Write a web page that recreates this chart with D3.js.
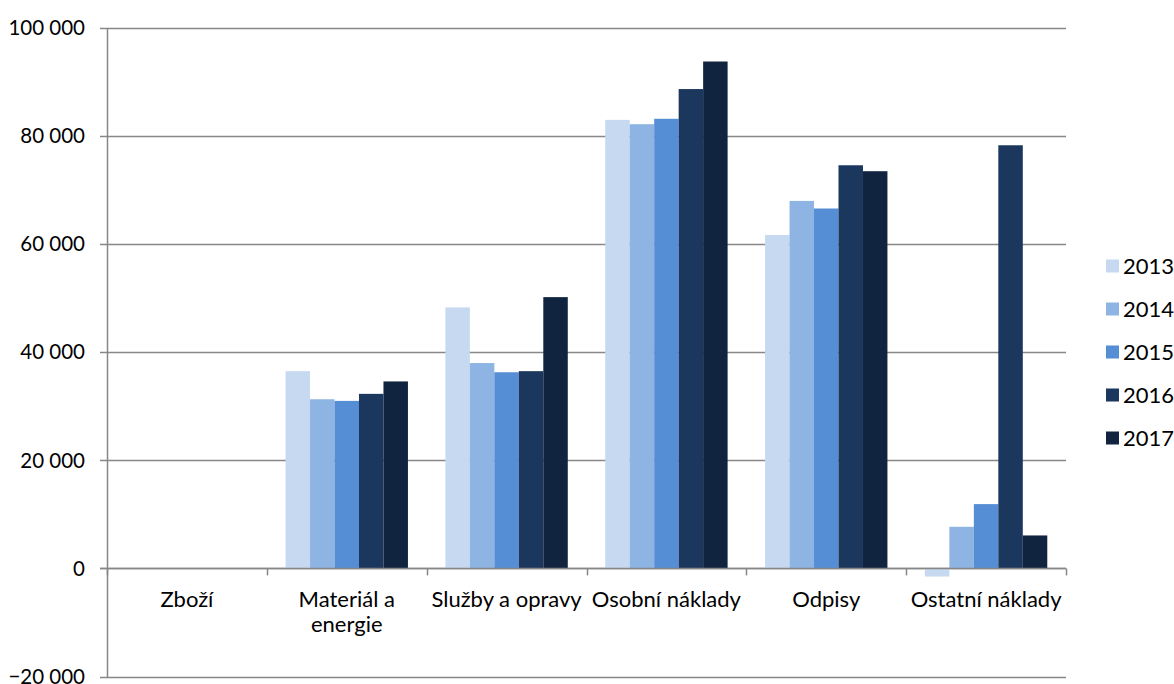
<!DOCTYPE html>
<html>
<head>
<meta charset="utf-8">
<script src="https://cdn.jsdelivr.net/npm/d3@7"></script>
<style>
  html, body { margin: 0; padding: 0; background: #fff; }
  svg { display: block; font-family: Lato, "Open Sans", sans-serif; }
</style>
</head>
<body>
<svg id="chart" width="1174" height="684"></svg>
<script>
// Náklady podle druhu, 2013–2017
const categories = [["Zboží"], ["Materiál a", "energie"], ["Služby a opravy"], ["Osobní náklady"], ["Odpisy"], ["Ostatní náklady"]];
const years = ["2013", "2014", "2015", "2016", "2017"];
const values2013 = [0, 36500, 48300, 83000, 61700, -1500];
const values2014 = [0, 31300, 38000, 82200, 68000, 7700];
const values2015 = [0, 31000, 36300, 83200, 66600, 11900];
const values2016 = [0, 32300, 36500, 88700, 74600, 78300];
const values2017 = [0, 34600, 50200, 93800, 73500, 6100];
const yTicks = [-20000, 0, 20000, 40000, 60000, 80000, 100000];
const colors = ["#c6d9f1", "#8eb4e3", "#558ed5", "#1b375e", "#11243f"];

const series = [values2013, values2014, values2015, values2016, values2017];
const catKeys = categories.map(c => c.join(" "));

const svg = d3.select("#chart");
const plotL = 107, plotR = 1066, plotT = 28, plotB = 676.5;

const y = d3.scaleLinear().domain([-20000, 100000]).range([plotB, plotT]);
const x0 = d3.scaleBand().domain(catKeys).range([plotL, plotR]).padding(0);
const x1 = d3.scaleBand().domain(years).range([0, x0.bandwidth()]).paddingInner(0).paddingOuter(0.765);
const color = d3.scaleOrdinal().domain(years).range(colors);

const fmt = v => d3.format(",")(v).replace(/,/g, " ");

// horizontal gridlines
svg.append("g").selectAll("line").data(yTicks).join("line")
  .attr("x1", plotL - 7).attr("x2", plotR)
  .attr("y1", d => Math.round(y(d)) + 0.5).attr("y2", d => Math.round(y(d)) + 0.5)
  .attr("stroke", "#878787").attr("stroke-width", 1.5);

// y-axis labels
svg.append("g").selectAll("text").data(yTicks).join("text")
  .attr("x", 85).attr("y", d => y(d))
  .attr("dy", "0.35em").attr("text-anchor", "end")
  .attr("font-size", 20.5).attr("fill", "#000")
  .text(d => fmt(d));

// bars
const groups = svg.append("g").selectAll("g").data(catKeys).join("g")
  .attr("transform", d => `translate(${x0(d)},0)`);
groups.selectAll("rect")
  .data((c, i) => years.map((yr, j) => ({ yr, v: series[j][i] })))
  .join("rect")
  .attr("x", d => x1(d.yr))
  .attr("width", x1.bandwidth())
  .attr("y", d => y(Math.max(0, d.v)))
  .attr("height", d => Math.abs(y(d.v) - y(0)))
  .attr("fill", d => color(d.yr));

// vertical axis line
svg.append("line")
  .attr("x1", plotL + 0.5).attr("x2", plotL + 0.5)
  .attr("y1", plotT).attr("y2", plotB + 1)
  .attr("stroke", "#878787").attr("stroke-width", 1.5);

// zero line with category ticks
svg.append("line")
  .attr("x1", plotL - 7).attr("x2", plotR)
  .attr("y1", Math.round(y(0)) + 0.5).attr("y2", Math.round(y(0)) + 0.5)
  .attr("stroke", "#878787").attr("stroke-width", 1.5);
const bounds = catKeys.map(c => x0(c)).concat([plotR]);
svg.append("g").selectAll("line").data(bounds).join("line")
  .attr("x1", d => Math.round(d) + 0.5).attr("x2", d => Math.round(d) + 0.5)
  .attr("y1", y(0)).attr("y2", y(0) + 7)
  .attr("stroke", "#878787").attr("stroke-width", 1.5);

// category labels
const labels = svg.append("g").selectAll("text").data(categories).join("text")
  .attr("x", (d, i) => x0(catKeys[i]) + x0.bandwidth() / 2)
  .attr("y", 607)
  .attr("text-anchor", "middle").attr("font-size", 22).attr("fill", "#000");
labels.selectAll("tspan").data(d => d).join("tspan")
  .attr("x", function () { return d3.select(this.parentNode).attr("x"); })
  .attr("dy", (d, i) => i === 0 ? 0 : 25)
  .text(d => d);

// legend
const legend = svg.append("g").selectAll("g").data(years).join("g")
  .attr("transform", (d, i) => `translate(1106,${266 + i * 43})`);
legend.append("rect").attr("x", 0).attr("y", -6.5).attr("width", 13).attr("height", 13)
  .attr("fill", d => color(d));
legend.append("text").attr("x", 17).attr("y", 0).attr("dy", "0.36em")
  .attr("font-size", 22).attr("fill", "#000").text(d => d);
</script>
</body>
</html>
